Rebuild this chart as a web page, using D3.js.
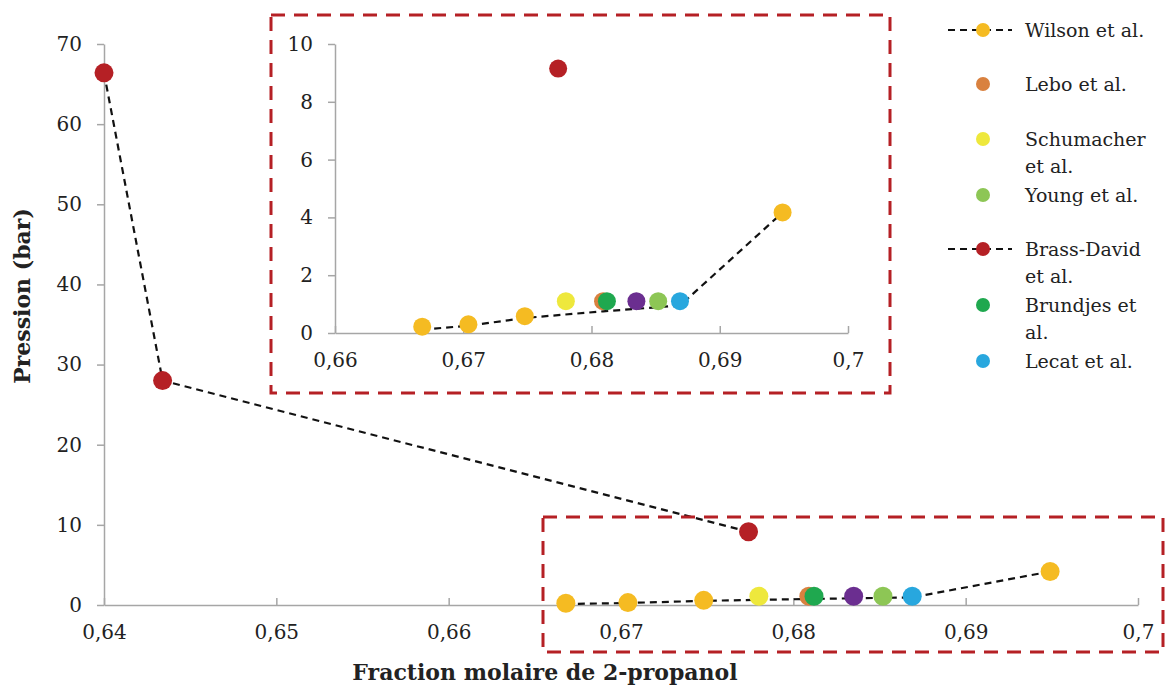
<!DOCTYPE html>
<html>
<head>
<meta charset="utf-8">
<script src="https://cdn.jsdelivr.net/npm/d3@7"></script>
<style>
  body { margin: 0; background: #fff; }
  text { font-family: "DejaVu Serif", "Liberation Serif", serif; fill: #222; }
</style>
</head>
<body>
<script>
// series: [fraction molaire, pression]
var wilson = [[0.6668, 0.22], [0.6704, 0.30], [0.6748, 0.58], [0.6949, 4.17]];
var wilsonTrend = [[0.6668, 0.12], [0.6704, 0.25], [0.6748, 0.52], [0.6809, 0.75], [0.6869, 0.95], [0.6949, 4.17]];
var lebo = [[0.6809, 1.1]];
var schumacher = [[0.6780, 1.1]];
var young = [[0.6852, 1.1]];
var brassDavid = [[0.6400, 66.4], [0.6434, 28.0], [0.6774, 9.15]];
var brundjes = [[0.6812, 1.1]];
var lecat = [[0.6869, 1.1]];
var unnamed = [[0.6835, 1.1]];

var mainXTicks = [0.64, 0.65, 0.66, 0.67, 0.68, 0.69, 0.7];
var mainYTicks = [0, 10, 20, 30, 40, 50, 60, 70];
var insetXTicks = [0.66, 0.67, 0.68, 0.69, 0.7];
var insetYTicks = [0, 2, 4, 6, 8, 10];

var series = [
    { name: "Wilson et al.", data: wilson, trend: wilsonTrend, color: "#F5BB22" },
    { name: "Lebo et al.", data: lebo, color: "#D9813F" },
    { name: "Schumacher et al.", data: schumacher, color: "#EEE83C" },
    { name: "Young et al.", data: young, color: "#8DC655" },
    { name: "Brass-David et al.", data: brassDavid, trend: brassDavid, color: "#B52025" },
    { name: "Brundjes et al.", data: brundjes, color: "#1FA84F" },
    { name: "Lecat et al.", data: lecat, color: "#28A7DE" },
    { name: "", data: unnamed, color: "#6B2E90" }
];
// drawing order of the markers
var drawOrder = [0, 4, 2, 1, 5, 7, 3, 6];

var legendRows = [
    { s: 0, lines: ["Wilson et al."], y: 30 },
    { s: 1, lines: ["Lebo et al."], y: 84 },
    { s: 2, lines: ["Schumacher", "et al."], y: 139 },
    { s: 3, lines: ["Young et al."], y: 195 },
    { s: 4, lines: ["Brass-David", "et al."], y: 249 },
    { s: 5, lines: ["Brundjes et", "al."], y: 305 },
    { s: 6, lines: ["Lecat et al."], y: 361 }
];

var fmt = function (d) { return String(+d.toFixed(2)).replace(".", ","); };

var svg = d3.select("body").append("svg")
    .attr("width", 1167)
    .attr("height", 686);

function drawChart(g, x, y, xTicks, yTicks, r, fontSize, clipId) {
    var xAxis = d3.axisBottom(x).tickValues(xTicks).tickFormat(fmt).tickSizeInner(-7).tickSizeOuter(0);
    var yAxis = d3.axisLeft(y).tickValues(yTicks).tickSizeInner(7).tickSizeOuter(0);

    var gx = g.append("g")
        .attr("transform", "translate(0," + y.range()[0] + ")")
        .call(xAxis);
    var gy = g.append("g")
        .attr("transform", "translate(" + x.range()[0] + ",0)")
        .call(yAxis);

    [gx, gy].forEach(function (a) {
        a.select(".domain").attr("stroke", "#a6a6a6").attr("stroke-width", 1.5);
        a.selectAll(".tick line").attr("stroke", "#a6a6a6").attr("stroke-width", 1.5);
        a.selectAll(".tick text")
            .style("font-family", "'DejaVu Serif', serif")
            .style("font-size", fontSize + "px")
            .attr("fill", "#222");
    });
    gx.selectAll(".tick text").attr("y", 20).attr("dy", "0.71em");
    gy.selectAll(".tick text").attr("x", -22);

    // keep lines inside the plotting area
    g.append("clipPath").attr("id", clipId)
        .append("rect")
        .attr("x", x.range()[0]).attr("y", y.range()[1] - 12)
        .attr("width", x.range()[1] - x.range()[0] + 12)
        .attr("height", y.range()[0] - y.range()[1] + 12);

    var line = d3.line()
        .defined(function (d) { return d[0] >= x.domain()[0]; })
        .x(function (d) { return x(d[0]); })
        .y(function (d) { return y(d[1]); });

    series.forEach(function (s) {
        if (!s.trend) return;
        var pts = s.trend.filter(function (d) { return d[0] >= x.domain()[0] && d[1] <= y.domain()[1]; });
        if (pts.length < 2) return;
        g.append("path")
            .datum(pts)
            .attr("d", line)
            .attr("clip-path", "url(#" + clipId + ")")
            .attr("fill", "none")
            .attr("stroke", "#111")
            .attr("stroke-width", 2.2)
            .attr("stroke-dasharray", "7,5");
    });

    drawOrder.forEach(function (i) {
        var s = series[i];
        g.append("g").selectAll("circle")
            .data(s.data.filter(function (d) { return d[0] >= x.domain()[0] && d[1] <= y.domain()[1]; }))
            .enter().append("circle")
            .attr("cx", function (d) { return x(d[0]); })
            .attr("cy", function (d) { return y(d[1]); })
            .attr("r", r)
            .attr("fill", s.color);
    });
}

// main chart
var xMain = d3.scaleLinear().domain([0.64, 0.7]).range([104, 1138]);
var yMain = d3.scaleLinear().domain([0, 70]).range([605, 44]);
drawChart(svg.append("g"), xMain, yMain, mainXTicks, mainYTicks, 9.5, 20, "clipMain");

// zoom box on main chart
svg.append("rect")
    .attr("x", 543).attr("y", 517)
    .attr("width", 620).attr("height", 135)
    .attr("fill", "none")
    .attr("stroke", "#B52025")
    .attr("stroke-width", 3)
    .attr("stroke-dasharray", "14,9");

// inset
svg.append("rect")
    .attr("x", 271).attr("y", 15)
    .attr("width", 619).attr("height", 378)
    .attr("fill", "#fff")
    .attr("stroke", "#B52025")
    .attr("stroke-width", 3)
    .attr("stroke-dasharray", "14,9");

var xIn = d3.scaleLinear().domain([0.66, 0.7]).range([335, 848]);
var yIn = d3.scaleLinear().domain([0, 10]).range([333, 44]);
drawChart(svg.append("g"), xIn, yIn, insetXTicks, insetYTicks, 9, 20, "clipInset");

// axis titles
svg.append("text")
    .attr("transform", "translate(30,296) rotate(-90)")
    .attr("text-anchor", "middle")
    .style("font-size", "22px")
    .style("font-weight", "bold")
    .attr("fill", "#111")
    .text("Pression (bar)");

svg.append("text")
    .attr("x", 545).attr("y", 680)
    .attr("text-anchor", "middle")
    .style("font-size", "22px")
    .style("font-weight", "bold")
    .attr("fill", "#111")
    .text("Fraction molaire de 2-propanol");

// legend
var legend = svg.append("g");
legendRows.forEach(function (row) {
    var s = series[row.s];
    if (s.trend) {
        legend.append("line")
            .attr("x1", 948).attr("x2", 1012)
            .attr("y1", row.y).attr("y2", row.y)
            .attr("stroke", "#111")
            .attr("stroke-width", 2)
            .attr("stroke-dasharray", "7,5");
    }
    legend.append("circle")
        .attr("cx", 983).attr("cy", row.y)
        .attr("r", 7)
        .attr("fill", s.color);
    legend.append("text")
        .attr("x", 1025).attr("y", row.y)
        .style("font-size", "19px")
        .selectAll("tspan")
        .data(row.lines)
        .enter().append("tspan")
        .attr("x", 1025)
        .attr("dy", function (d, i) { return i === 0 ? "0.35em" : "1.45em"; })
        .text(function (d) { return d; });
});
</script>
</body>
</html>
